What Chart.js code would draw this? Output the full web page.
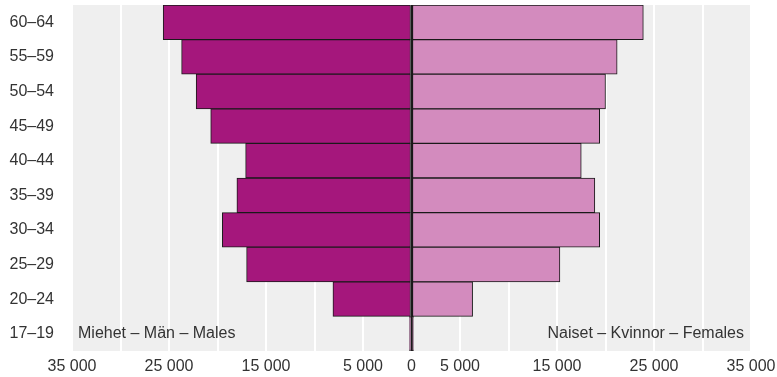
<!DOCTYPE html>
<html>
<head>
<meta charset="utf-8">
<script src="https://cdn.jsdelivr.net/npm/chart.js@4/dist/chart.umd.min.js"></script>
<style>
  html, body { margin: 0; padding: 0; background: #fff; }
  #wrap { width: 777px; height: 377px; position: relative; }
</style>
</head>
<body>
<div id="wrap"><canvas id="c" width="777" height="377"></canvas></div>
<script>
const ageGroups = ['60–64','55–59','50–54','45–49','40–44','35–39','30–34','25–29','20–24','17–19'];
const males   = [25600, 23700, 22200, 20700, 17100, 18000, 19500, 17000, 8100, 200];
const females = [23900, 21200, 20000, 19400, 17500, 18900, 19400, 15300, 6300, 200];
const maleLabel = 'Miehet – Män – Males';
const femaleLabel = 'Naiset – Kvinnor – Females';
const axisMin = -35000, axisMax = 35000, axisStep = 5000;

const FONT = "'Liberation Sans', Arial, Helvetica, sans-serif";
const TEXT = '#333333';

function fmt(v) {
  return String(Math.abs(v)).replace(/\B(?=(\d{3})+(?!\d))/g, ' ');
}

const bgPlugin = {
  id: 'bg',
  beforeDraw(chart) {
    const a = chart.chartArea, ctx = chart.ctx;
    ctx.save();
    ctx.fillStyle = '#efefef';
    ctx.fillRect(a.left, a.top, a.right - a.left, a.bottom - a.top);
    ctx.restore();
  },
  afterDraw(chart) {
    const a = chart.chartArea, ctx = chart.ctx;
    const yScale = chart.scales.y;
    const yc = yScale.getPixelForValue(ageGroups.length - 1);
    ctx.save();
    ctx.font = '16px ' + FONT;
    ctx.fillStyle = TEXT;
    ctx.textBaseline = 'middle';
    ctx.textAlign = 'left';
    ctx.fillText(maleLabel, a.left + 6, yc);
    ctx.textAlign = 'right';
    ctx.fillText(femaleLabel, a.right - 7, yc);
    ctx.restore();
  }
};

new Chart(document.getElementById('c'), {
  type: 'bar',
  data: {
    labels: ageGroups,
    datasets: [
      {
        label: maleLabel,
        data: males.map(v => -v),
        backgroundColor: '#a5177c',
        borderColor: '#1a1a1a',
        borderWidth: 1,
        borderSkipped: false,
        barPercentage: 1,
        categoryPercentage: 1
      },
      {
        label: femaleLabel,
        data: females,
        backgroundColor: '#d38bbe',
        borderColor: '#1a1a1a',
        borderWidth: 1,
        borderSkipped: false,
        barPercentage: 1,
        categoryPercentage: 1
      }
    ]
  },
  options: {
    indexAxis: 'y',
    responsive: false,
    animation: false,
    layout: { padding: { top: 5, right: 26, left: 0, bottom: 0 } },
    plugins: { legend: { display: false }, tooltip: { enabled: false } },
    scales: {
      x: {
        stacked: true,
        min: axisMin, max: axisMax,
        grid: {
          color: c => (c.tick && c.tick.value === 0) ? '#1a1a1a' : '#ffffff',
          lineWidth: 2,
          drawTicks: false
        },
        border: { display: false },
        afterFit(s) { s.height = 26; s.paddingLeft = 0; s.paddingRight = 0; },
        ticks: {
          stepSize: axisStep,
          autoSkip: false,
          maxRotation: 0,
          padding: 6,
          color: TEXT,
          font: { family: FONT, size: 16 },
          callback(v) {
            if (v === 0) return '0';
            return (Math.abs(v) % 10000 === 5000) ? fmt(v) : '';
          }
        }
      },
      y: {
        stacked: true,
        grid: { display: false, drawTicks: false },
        border: { display: false },
        afterFit(s) { s.width = 72; s.paddingTop = 0; s.paddingBottom = 0; },
        ticks: {
          padding: 18,
          color: TEXT,
          font: { family: FONT, size: 16 }
        }
      }
    }
  },
  plugins: [bgPlugin]
});
</script>
</body>
</html>
